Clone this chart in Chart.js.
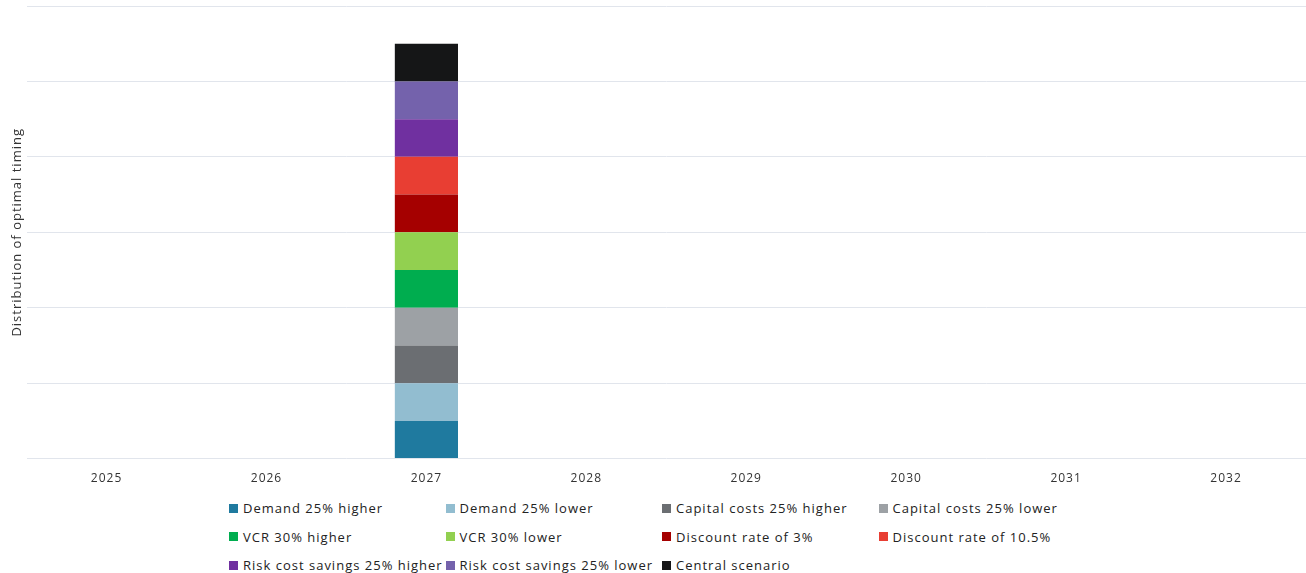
<!DOCTYPE html>
<html>
<head>
<meta charset="utf-8">
<script src="https://cdn.jsdelivr.net/npm/chart.js@4"></script>
<style>
  body { margin: 0; background: #fff; font-family: "Open Sans", sans-serif; }
  .wrap { position: relative; width: 1306px; height: 573px; }
  .chart-box { position: absolute; left: 0; top: 0; width: 1306px; height: 491px; }
  #legend { position: absolute; left: 229px; top: 499px; width: 880px; }
  .leg-item { position: absolute; display: flex; align-items: center; font-size: 13px; letter-spacing: 1px; color: #222; white-space: nowrap; }
  .leg-item span.box { width: 9px; height: 9px; margin-right: 5px; display: inline-block; }
</style>
</head>
<body>
<div class="wrap">
  <div class="chart-box"><canvas id="timingChart"></canvas></div>
  <div id="legend"></div>
</div>
<script>
// Dados do gráfico
const years = ['2025', '2026', '2027', '2028', '2029', '2030', '2031', '2032'];

const scenarios = [
    'Demand 25% higher', 'Demand 25% lower',
    'Capital costs 25% higher', 'Capital costs 25% lower',
    'VCR 30% higher', 'VCR 30% lower',
    'Discount rate of 3%', 'Discount rate of 10.5%',
    'Risk cost savings 25% higher', 'Risk cost savings 25% lower',
    'Central scenario'
];

const scenarioColors = [
    '#1f7a9f', '#92bdd0',
    '#6b6e72', '#9da1a5',
    '#00ad4f', '#92d050',
    '#a50000', '#e83e33',
    '#7030a0', '#7462ac',
    '#151617'
];

// cada cenário aponta 2027 como ano ótimo
const demandHigher   = [0, 0, 1, 0, 0, 0, 0, 0];
const demandLower    = [0, 0, 1, 0, 0, 0, 0, 0];
const capexHigher    = [0, 0, 1, 0, 0, 0, 0, 0];
const capexLower     = [0, 0, 1, 0, 0, 0, 0, 0];
const vcrHigher      = [0, 0, 1, 0, 0, 0, 0, 0];
const vcrLower       = [0, 0, 1, 0, 0, 0, 0, 0];
const discount3      = [0, 0, 1, 0, 0, 0, 0, 0];
const discount105    = [0, 0, 1, 0, 0, 0, 0, 0];
const riskHigher     = [0, 0, 1, 0, 0, 0, 0, 0];
const riskLower      = [0, 0, 1, 0, 0, 0, 0, 0];
const central        = [0, 0, 1, 0, 0, 0, 0, 0];

const seriesValues = [
    demandHigher, demandLower, capexHigher, capexLower, vcrHigher, vcrLower,
    discount3, discount105, riskHigher, riskLower, central
];

const yMax = 12;
const yStep = 2;

const datasets = scenarios.map((name, i) => ({
    label: name,
    data: seriesValues[i],
    backgroundColor: scenarioColors[i],
    borderWidth: 0,
    barPercentage: 0.395,
    categoryPercentage: 1
}));

// espaçamento das letras no canvas (texto mais largo como no original)
const letterSpacingPlugin = {
    id: 'letterSpacing',
    beforeDraw(chart) {
        chart.ctx.letterSpacing = '1px';
    }
};

const ctx = document.getElementById('timingChart').getContext('2d');
const chart = new Chart(ctx, {
    type: 'bar',
    data: { labels: years, datasets: datasets },
    plugins: [letterSpacingPlugin],
    options: {
        responsive: true,
        maintainAspectRatio: false,
        animation: false,
        layout: { padding: { left: 9, top: 6, right: 0, bottom: 0 } },
        plugins: {
            legend: { display: false },
            tooltip: { enabled: false }
        },
        scales: {
            x: {
                stacked: true,
                grid: { display: false },
                border: { display: false },
                ticks: {
                    color: '#333',
                    font: { family: 'Open Sans', size: 12 },
                    padding: 5,
                    maxRotation: 0
                }
            },
            y: {
                stacked: true,
                min: 0,
                max: yMax,
                ticks: { display: false, stepSize: yStep },
                grid: { color: '#e1e5ec', drawTicks: false },
                border: { display: false },
                title: {
                    display: true,
                    text: 'Distribution of optimal timing',
                    color: '#333',
                    font: { family: 'Open Sans', size: 13 },
                    padding: { top: 0, bottom: 2 }
                }
            }
        }
    }
});

// Legenda em grade (4 colunas)
const legendEl = document.getElementById('legend');
chart.data.datasets.forEach((ds, i) => {
    const item = document.createElement('div');
    item.className = 'leg-item';
    item.style.left = ((i % 4) * 216.5) + 'px';
    item.style.top = (Math.floor(i / 4) * 28.5) + 'px';
    item.innerHTML = '<span class="box" style="background:' + ds.backgroundColor + '"></span>' + ds.label;
    legendEl.appendChild(item);
});
</script>
</body>
</html>
